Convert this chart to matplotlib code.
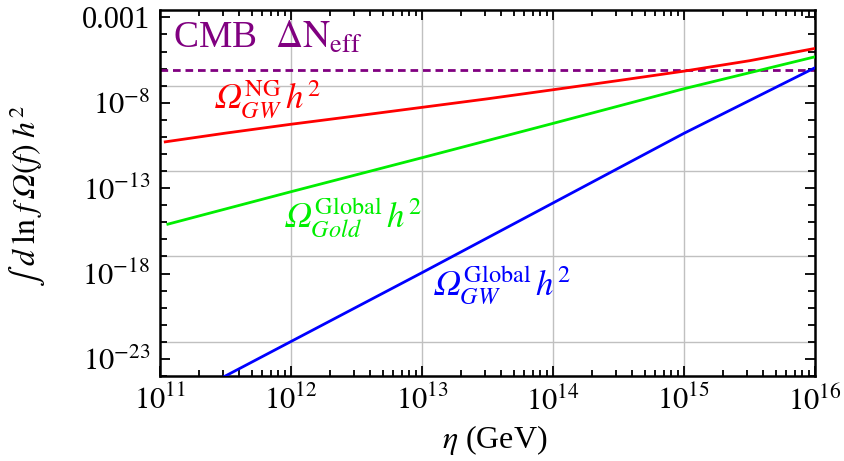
import numpy as np
import matplotlib
matplotlib.use("Agg")
import matplotlib.pyplot as plt
from matplotlib.ticker import FixedLocator, FixedFormatter, LogLocator, NullFormatter

plt.rcParams['font.family'] = ['Liberation Serif', 'DejaVu Serif']
plt.rcParams['mathtext.fontset'] = 'stix'
plt.rcParams['lines.scale_dashes'] = False

# ---- data (log10 values) ----
log_eta_ng = [11.04, 11.5, 12.0, 12.5, 13.0, 13.5, 14.0, 14.5, 15.0, 15.5, 16.0]
log_omega_ng = [-10.29, -9.78, -9.26, -8.77, -8.27, -7.77, -7.24, -6.70, -6.15, -5.54, -4.82]

log_eta_gold = [11.06, 12.0, 13.0, 14.0, 15.0, 16.0]
log_omega_gold = [-15.11, -13.21, -11.22, -9.21, -7.18, -5.31]

log_eta_gw = [11.04, 12.0, 13.0, 14.0, 15.0, 16.0]
log_omega_gw = [-25.85, -21.98, -17.95, -13.87, -9.79, -5.95]

cmb_bound = 10 ** -6.1

x_ticks = [1e11, 1e12, 1e13, 1e14, 1e15, 1e16]
x_ticklabels = [r'$10^{11}$', r'$10^{12}$', r'$10^{13}$', r'$10^{14}$', r'$10^{15}$', r'$10^{16}$']
y_ticks = [1e-3, 1e-8, 1e-13, 1e-18, 1e-23]
y_ticklabels = ['0.001', r'$10^{-8}$', r'$10^{-13}$', r'$10^{-18}$', r'$10^{-23}$']
x_grid = [1e12, 1e13, 1e14, 1e15]
y_grid = [1e-7, 1e-12, 1e-17, 1e-22]

OM = '\U0001D6FA'  # mathematical italic capital Omega

W, H = 845, 461
fig = plt.figure(figsize=(W / 100, H / 100), dpi=100)
ax = fig.add_axes([160 / W, 1 - 376 / H, (815 - 160) / W, (376 - 10) / H])
ax.set_xscale('log')
ax.set_yscale('log')
ax.set_xlim(1e11, 1e16)
ax.set_ylim(1e-24, 10 ** -2.57)

for g in x_grid:
    ax.axvline(g, color='#c0c0c0', lw=1.0, zorder=0)
for g in y_grid:
    ax.axhline(g, color='#c0c0c0', lw=1.0, zorder=0)

lw = 2.0
ax.plot(10 ** np.array(log_eta_ng), 10 ** np.array(log_omega_ng), color='#ff0000', lw=lw, zorder=3)
ax.plot(10 ** np.array(log_eta_gold), 10 ** np.array(log_omega_gold), color='#00ee00', lw=lw, zorder=3)
ax.plot(10 ** np.array(log_eta_gw), 10 ** np.array(log_omega_gw), color='#0000ff', lw=lw, zorder=3)
ax.axhline(cmb_bound, color='#800080', lw=lw, dashes=(5.5, 3.5), zorder=2)

# ticks
ax.xaxis.set_major_locator(FixedLocator(x_ticks))
ax.xaxis.set_major_formatter(FixedFormatter(x_ticklabels))
ax.xaxis.set_minor_locator(LogLocator(base=10, subs=np.arange(2, 10), numticks=50))
ax.xaxis.set_minor_formatter(NullFormatter())
ax.yaxis.set_major_locator(FixedLocator(y_ticks))
ax.yaxis.set_major_formatter(FixedFormatter(y_ticklabels))
ax.yaxis.set_minor_locator(FixedLocator([10.0 ** k for k in range(-24, -2)]))
ax.yaxis.set_minor_formatter(NullFormatter())
ax.tick_params(which='both', direction='in', top=True, right=True, width=1.3, colors='black')
ax.tick_params(which='major', length=7, labelsize=22, pad=7)
ax.tick_params(which='minor', length=4)
ax.tick_params(axis='y', which='minor', length=5)
for s in ax.spines.values():
    s.set_linewidth(1.8)

fig.text(495 / W, 1 - 440 / H, r'$\eta$ (GeV)', fontsize=23, ha='center', va='center')
fig.text(28 / W, 1 - 196 / H, r'$\int\; d\;\mathrm{ln}\; f\,' + OM + r'(f)\;h^2$',
         fontsize=23, ha='center', va='center', rotation=90)

fig.text(173 / W, 1 - 48 / H, r'CMB  $\Delta\mathrm{N}_{\mathrm{eff}}$',
         color='#800080', fontsize=27, va='baseline', ha='left')
fig.text(213 / W, 1 - 108 / H, '$' + OM + r'^{\mathrm{NG}}_{GW}\,h^2$', color='#ff0000',
         fontsize=25, ha='left', va='baseline')
fig.text(283 / W, 1 - 227 / H, '$' + OM + r'^{\mathrm{Global}}_{Gold}\,h^2$', color='#00ee00',
         fontsize=25, ha='left', va='baseline')
fig.text(432 / W, 1 - 295 / H, '$' + OM + r'^{\mathrm{Global}}_{GW}\,h^2$', color='#0000ff',
         fontsize=25, ha='left', va='baseline')

fig.savefig('out.png', dpi=100)
